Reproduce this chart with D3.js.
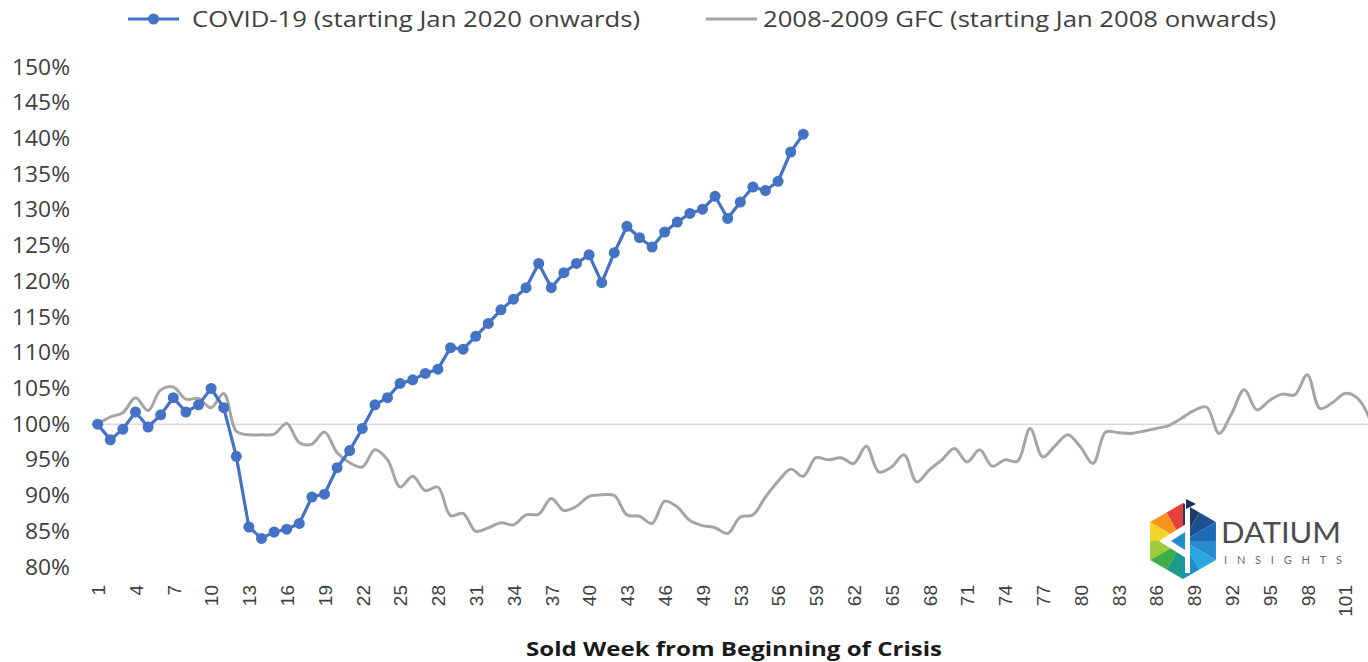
<!DOCTYPE html>
<html>
<head>
<meta charset="utf-8">
<script src="https://cdn.jsdelivr.net/npm/d3@7"></script>
<style>
  html, body { margin: 0; padding: 0; background: #fff; }
  svg { display: block; font-family: "Open Sans", "DejaVu Sans", sans-serif; }
</style>
</head>
<body>
<svg id="chart" width="1368" height="662"></svg>
<script>
// ---- data ----
const weeks = [1,2,3,4,5,6,7,8,9,10,11,12,13,14,15,16,17,18,19,20,21,22,23,24,25,26,27,28,29,30,
  31,32,33,34,35,36,37,38,39,40,41,42,43,44,45,46,47,48,49,50,51,53,54,55,56,57,58,59,60,61,
  62,63,64,65,66,67,68,69,70,71,72,73,74,75,76,77,78,79,80,81,82,83,84,85,86,87,88,89,90,91,
  92,93,94,95,96,97,98,99,100,101,102,103];

const covid = [100.0, 97.8, 99.3, 101.7, 99.6, 101.3, 103.7, 101.7, 102.7, 105.0,
  102.3, 95.5, 85.6, 84.0, 84.9, 85.3, 86.1, 89.8, 90.2, 93.9,
  96.3, 99.4, 102.7, 103.7, 105.7, 106.2, 107.1, 107.7, 110.7, 110.5,
  112.3, 114.1, 116.0, 117.5, 119.1, 122.5, 119.1, 121.2, 122.5, 123.7,
  119.8, 124.0, 127.7, 126.1, 124.8, 126.9, 128.3, 129.5, 130.1, 131.9,
  128.8, 131.1, 133.2, 132.7, 134.0, 138.1, 140.6];

const gfc = [100.0, 101.0, 101.6, 103.7, 101.9, 104.8, 105.2, 103.5, 103.6, 102.3,
  104.3, 99.0, 98.5, 98.5, 98.6, 100.1, 97.4, 97.2, 98.9, 96.0,
  94.6, 94.0, 96.4, 95.0, 91.2, 92.7, 90.7, 91.2, 87.2, 87.5,
  85.0, 85.5, 86.2, 85.9, 87.3, 87.4, 89.6, 87.9, 88.5, 89.9,
  90.1, 90.0, 87.3, 87.1, 86.1, 89.2, 88.4, 86.5, 85.8, 85.5,
  84.7, 87.0, 87.3, 89.8, 92.0, 93.7, 92.7, 95.3, 95.0, 95.3,
  94.5, 96.9, 93.3, 94.0, 95.7, 91.9, 93.6, 95.0, 96.6, 94.7,
  96.4, 94.1, 95.0, 94.8, 99.4, 95.4, 97.0, 98.5, 96.8, 94.5,
  98.9, 98.8, 98.7, 99.0, 99.4, 99.8, 100.8, 101.9, 102.4, 98.7,
  101.5, 104.8, 102.0, 103.3, 104.2, 104.1, 106.9, 102.2, 103.0, 104.3,
  103.6, 100.6];

const yTicks = [80, 85, 90, 95, 100, 105, 110, 115, 120, 125, 130, 135, 140, 145, 150];
const xTickLabels = weeks.filter((d, i) => i % 3 === 0);

const seriesNames = ["COVID-19 (starting Jan 2020 onwards)", "2008-2009 GFC (starting Jan 2008 onwards)"];
const axisTitle = "Sold Week from Beginning of Crisis";

// ---- drawing ----
const svg = d3.select("#chart");
const blue = "#4472C4", grey = "#A5A5A5", textCol = "#404040";

const x = d3.scalePoint().domain(weeks).range([97.7, 97.7 + (weeks.length - 1) * 12.6]);
const y = d3.scaleLinear().domain([80, 150]).range([567, 67]);

// 100% baseline
svg.append("line")
  .attr("x1", 91).attr("x2", 1368)
  .attr("y1", y(100)).attr("y2", y(100))
  .attr("stroke", "#D9D9D9").attr("stroke-width", 1.5);

// y axis
const yAxis = svg.append("g").attr("transform", "translate(70,0)")
  .call(d3.axisLeft(y).tickValues(yTicks).tickFormat(d => d + "%").tickSize(0).tickPadding(0));
yAxis.select(".domain").remove();
yAxis.selectAll("text").attr("fill", textCol)
  .style("font-size", "22px").style("font-family", '"Open Sans", sans-serif')
  .attr("textLength", d => d >= 100 ? 58 : 45).attr("lengthAdjust", "spacingAndGlyphs");

// x axis
const xAxis = svg.append("g").attr("transform", "translate(0,585)")
  .call(d3.axisBottom(x).tickValues(xTickLabels).tickSize(0).tickPadding(0));
xAxis.select(".domain").remove();
xAxis.selectAll("text")
  .attr("fill", textCol)
  .style("font-size", "19px")
  .attr("transform", "rotate(-90)")
  .attr("text-anchor", "end")
  .attr("x", 0).attr("y", 0).attr("dy", "0.36em");

// GFC line
svg.append("path").datum(gfc)
  .attr("fill", "none").attr("stroke", grey).attr("stroke-width", 3)
  .attr("stroke-linejoin", "round")
  .attr("d", d3.line().x((d, i) => x(weeks[i])).y(d => y(d)).curve(d3.curveCatmullRom));

// COVID line
svg.append("path").datum(covid)
  .attr("fill", "none").attr("stroke", blue).attr("stroke-width", 3.2)
  .attr("stroke-linejoin", "round")
  .attr("d", d3.line().x((d, i) => x(weeks[i])).y(d => y(d)));
svg.append("g").selectAll("circle").data(covid).join("circle")
  .attr("cx", (d, i) => x(weeks[i])).attr("cy", d => y(d)).attr("r", 5.5)
  .attr("fill", blue);

// legend
const lg = svg.append("g");
lg.append("line").attr("x1", 128).attr("x2", 179).attr("y1", 19).attr("y2", 19)
  .attr("stroke", blue).attr("stroke-width", 3.2);
lg.append("circle").attr("cx", 153.5).attr("cy", 19).attr("r", 5.5).attr("fill", blue);
lg.append("text").attr("x", 192).attr("y", 27).text(seriesNames[0])
  .attr("fill", textCol).style("font-size", "22px")
  .attr("textLength", 448).attr("lengthAdjust", "spacingAndGlyphs");
lg.append("line").attr("x1", 706).attr("x2", 757).attr("y1", 19).attr("y2", 19)
  .attr("stroke", grey).attr("stroke-width", 3);
lg.append("text").attr("x", 763).attr("y", 27).text(seriesNames[1])
  .attr("fill", textCol).style("font-size", "22px")
  .attr("textLength", 513).attr("lengthAdjust", "spacingAndGlyphs");

// axis title
svg.append("text").attr("x", 734).attr("y", 656).attr("text-anchor", "middle")
  .text(axisTitle).attr("fill", "#1a1a1a")
  .style("font-size", "20px").style("font-weight", "bold")
  .attr("textLength", 416).attr("lengthAdjust", "spacingAndGlyphs");

// logo
const logo = svg.append("g");
const cx = 1183, cy = 541, R = 38;
const hex = d3.range(6).map(k => {
  const a = -Math.PI / 2 + k * Math.PI / 3;
  return [cx + R * Math.cos(a), cy + R * Math.sin(a)];
});
const edgeColors = [
  ["#233a6b", "#1d4f8f"],
  ["#1b6bb5", "#2a8bd0"],
  ["#29a6df", "#1f8fc9"],
  ["#1c9a8a", "#3fae49"],
  ["#9ccc3c", "#f6d32b"],
  ["#f7941d", "#e8403a"]
];
for (let k = 0; k < 6; k++) {
  const p = hex[k], q = hex[(k + 1) % 6];
  const m = [(p[0] + q[0]) / 2, (p[1] + q[1]) / 2];
  logo.append("path").attr("d", d3.line()([[cx, cy], p, m])).attr("fill", edgeColors[k][0]);
  logo.append("path").attr("d", d3.line()([[cx, cy], m, q])).attr("fill", edgeColors[k][1]);
}
logo.append("rect").attr("x", cx + 2).attr("y", cy - R - 2).attr("width", 5).attr("height", 2 * R - 4).attr("fill", "#fff");
logo.append("path").attr("d", d3.line()([[cx - 24, cy], [cx + 3, cy - 17], [cx + 3, cy + 17]])).attr("fill", "#fff");
logo.append("path").attr("d", d3.line()([[cx - 12, cy], [cx + 2, cy - 9], [cx + 2, cy + 9]])).attr("fill", "#1f8fd0");
logo.append("path").attr("d", d3.line()([[cx + 3, cy - R - 4], [cx + 13, cy - R + 1], [cx + 3, cy - R + 6]])).attr("fill", "#1c2f5e");
logo.append("text").attr("x", 1221).attr("y", 543).text("DATIUM")
  .attr("fill", "#4d4d4d").style("font-size", "28px").style("font-family", '"Lato", sans-serif')
  .attr("textLength", 120).attr("lengthAdjust", "spacingAndGlyphs");
logo.append("text").attr("x", 1224).attr("y", 564).text("INSIGHTS")
  .attr("fill", "#6d6d6d").style("font-size", "11px").style("font-family", '"Lato", sans-serif')
  .attr("textLength", 118).attr("lengthAdjust", "spacing");
</script>
</body>
</html>
